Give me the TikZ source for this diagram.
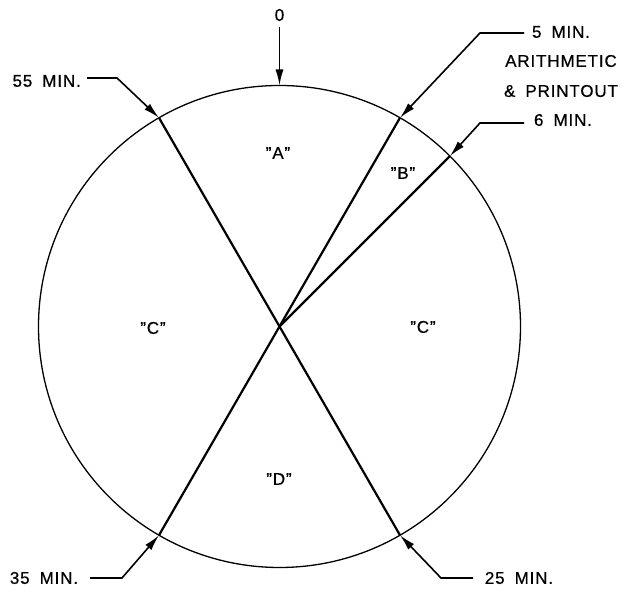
\documentclass[tikz,border=0pt]{standalone}
\usepackage{fontspec}
\setmainfont{Liberation Sans}[LetterSpace=5, WordSpace=1.8, FakeBold=0.6]
\usetikzlibrary{arrows.meta,calc}
\newcommand\dq{\symbol{34}}
\tikzset{
  lbl/.style={inner sep=0pt, font=\fontsize{17}{21}\selectfont},
  rim/.style={line width=1.3pt},
  radial/.style={line width=2.2pt},
  leader/.style={line width=1.6pt, -{Latex[length=16pt,width=8pt]}},
}
\begin{document}
\begin{tikzpicture}[x=1pt,y=1pt]
\useasboundingbox (0,0) rectangle (622,593);
\coordinate (c) at (279.5,266.5);
\draw[rim] (c) circle[radius=241];
% points on the rim
\coordinate (p0)  at ($(c)+(90:241)$);
\coordinate (p5)  at ($(c)+(60:241)$);
\coordinate (p6)  at ($(c)+(45:241)$);
\coordinate (p25) at ($(c)+(-60:241)$);
\coordinate (p35) at ($(c)+(-120:241)$);
\coordinate (p55) at ($(c)+(120:241)$);
% sector boundaries
\draw[radial] (p55) -- (p25);
\draw[radial] (p5) -- (p35);
\draw[radial] (c) -- (p6);
% region labels
\node[lbl] (rA)  at (278,440) {\dq A\dq};
\node[lbl] (rB)  at (403,420) {\dq B\dq};
\node[lbl] (rCl) at (153,265) {\dq C\dq};
\node[lbl] (rCr) at (423,266) {\dq C\dq};
\node[lbl] (rD)  at (279,114) {\dq D\dq};
% outside labels
\node[lbl] (t0)  at (279.5,578) {0};
\node[lbl, anchor=east] (t55) at (81,512) {55 MIN.};
\node[lbl] (t5)  at (561,561) {5 MIN.};
\node[lbl] (tar) at (561,532) {ARITHMETIC};
\node[lbl] (tpr) at (561,502) {\& PRINTOUT};
\node[lbl] (t6)  at (563,473) {6 MIN.};
\node[lbl] (t35) at (44,15) {35 MIN.};
\node[lbl] (t25) at (519,15) {25 MIN.};
% leader knees
\coordinate (s0)  at (279.5,566);
\coordinate (s55) at (87,515);   \coordinate (k55) at (117,515);
\coordinate (s5)  at (524,560);  \coordinate (k5)  at (480,560);
\coordinate (s6)  at (524,470);  \coordinate (k6)  at (480,470);
\coordinate (s35) at (90,15);    \coordinate (k35) at (122,15);
\coordinate (s25) at (473,15);   \coordinate (k25) at (441,15);
% leaders
\draw[leader] (s0) -- (p0);
\draw[leader] (s55) -- (k55) -- (p55);
\draw[leader] (s5) -- (k5) -- (p5);
\draw[leader] (s6) -- (k6) -- (p6);
\draw[leader] (s35) -- (k35) -- (p35);
\draw[leader] (s25) -- (k25) -- (p25);
\end{tikzpicture}
\end{document}
